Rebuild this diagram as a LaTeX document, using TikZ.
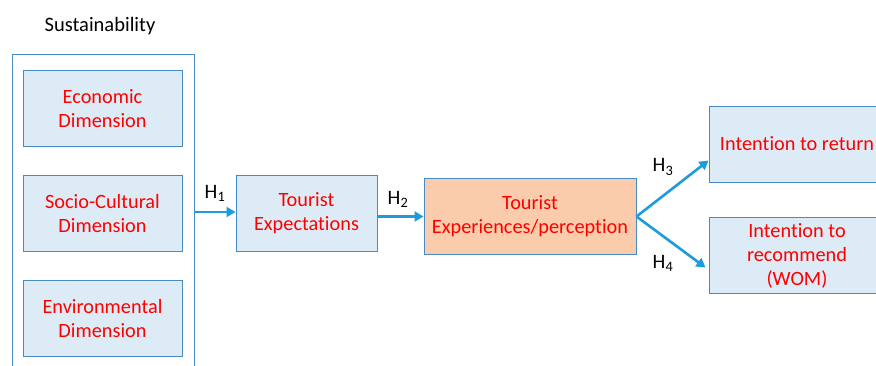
\documentclass[tikz,border=0pt]{standalone}
\usepackage{fontspec}
\setmainfont{Carlito}[Ligatures=NoCommon]
\usepackage{tikz}
\usetikzlibrary{arrows.meta,positioning,calc}
\definecolor{boxline}{RGB}{72,138,196}
\definecolor{boxfill}{RGB}{221,235,247}
\definecolor{peach}{RGB}{251,204,172}
\definecolor{arrowblue}{RGB}{30,155,220}
\definecolor{txtred}{RGB}{255,0,0}
\tikzset{
  % ---- boxes ------------------------------------------------------------
  box/.style={
    draw=boxline, line width=1pt, fill=boxfill, text=txtred,
    font=\fontsize{20.3}{24}\selectfont, align=center,
    minimum height=76pt, inner sep=2pt},
  dimbox/.style={box, minimum width=159pt},
  outbox/.style={box, minimum width=176pt},
  hotbox/.style={box, fill=peach},
  % ---- container --------------------------------------------------------
  group/.style={draw=boxline, line width=1pt},
  % ---- arrows -----------------------------------------------------------
  ar/.style={-{Triangle[length=9pt,width=10pt]}, draw=arrowblue, line width=2.6pt},
  % ---- labels -----------------------------------------------------------
  lbl/.style={font=\fontsize{20.5}{24}\selectfont, text=black, inner sep=1pt},
}

\begin{document}
\begin{tikzpicture}[x=1pt,y=-1pt]
\useasboundingbox (0,0) rectangle (876,365);
\clip (0,0) rectangle (876,365);
\fill[white] (0,0) rectangle (876,365);

% ============================ sustainability ================================
\node[lbl] (sustlbl) at (100,26) {Sustainability};
\draw[group] (12,372) -- (12,54) -- (194,54) -- (194,372);
\coordinate (sustR) at (194,212);

\node[dimbox] (econ)  at (102.5,108.5) {Economic\\Dimension};
\node[dimbox] (socio) at (102.5,213.5) {Socio-Cultural\\Dimension};
\node[dimbox] (env)   at (102.5,318.5) {Environmental\\Dimension};

% ============================ model chain ===================================
\node[box, minimum width=141pt] (expect) at (306.5,213) {Tourist\\Expectations};
\node[hotbox, minimum width=212pt] (exper) at (530,216.5) {Tourist\\Experiences/perception};

\node[outbox] (ret) at (797,144) {Intention to return};
\node[outbox] (rec) at (797,255.5) {Intention to\\recommend\\(WOM)};

\draw[ar] (sustR) -- (sustR -| expect.west);
\draw[ar] (exper.west -| expect.east) -- (exper.west);
\draw[ar] (exper.east) -- ([yshift=-16.5pt]ret.west);
\draw[ar] (exper.east) -- ([xshift=-3pt,yshift=-12pt]rec.west);

\node[lbl] (h1) at (215,193) {H\textsubscript{1}};
\node[lbl] (h2) at (398,199) {H\textsubscript{2}};
\node[lbl] (h3) at (663,167) {H\textsubscript{3}};
\node[lbl] (h4) at (663,263) {H\textsubscript{4}};

\end{tikzpicture}
\end{document}
